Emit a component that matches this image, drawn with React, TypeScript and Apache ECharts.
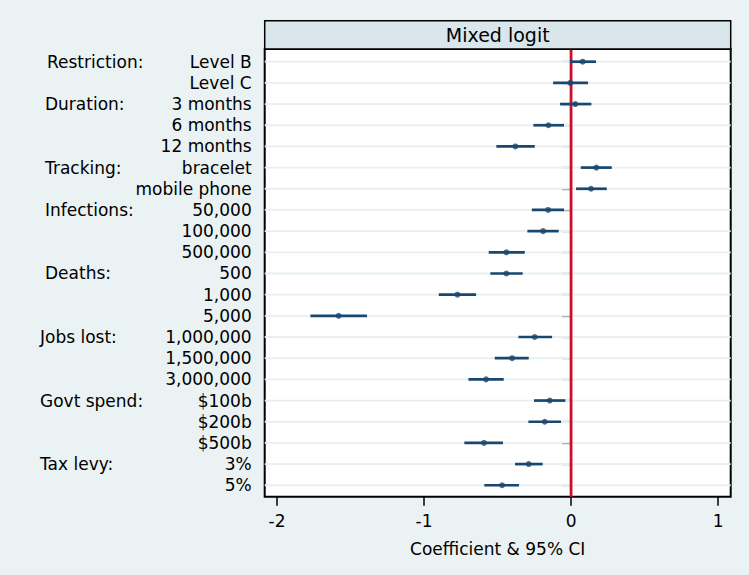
import React, { useEffect, useRef } from "react";
import * as echarts from "echarts";

const categories = [
  "Level B", "Level C", "3 months", "6 months", "12 months", "bracelet", "mobile phone",
  "50,000", "100,000", "500,000", "500", "1,000", "5,000", "1,000,000", "1,500,000",
  "3,000,000", "$100b", "$200b", "$500b", "3%", "5%",
];
const coef = [
  0.079, -0.005, 0.029, -0.154, -0.379, 0.172, 0.136, -0.156, -0.19, -0.44, -0.44,
  -0.773, -1.581, -0.247, -0.401, -0.578, -0.145, -0.179, -0.592, -0.288, -0.469,
];
const lower = [
  -0.007, -0.122, -0.075, -0.256, -0.508, 0.066, 0.034, -0.267, -0.297, -0.56, -0.549,
  -0.9, -1.773, -0.358, -0.519, -0.698, -0.252, -0.29, -0.726, -0.381, -0.59,
];
const upper = [
  0.17, 0.116, 0.138, -0.048, -0.247, 0.277, 0.243, -0.048, -0.084, -0.315, -0.329,
  -0.646, -1.388, -0.129, -0.288, -0.458, -0.039, -0.068, -0.463, -0.193, -0.354,
];
const groupLabels = [
  "Restriction:", "Duration:", "Tracking:", "Infections:", "Deaths:", "Jobs lost:",
  "Govt spend:", "Tax levy:",
];
const groupRows = [1, 3, 6, 8, 11, 14, 17, 20];
const xTicks = [-2, -1, 0, 1];
const refLine = 0;
const title = "Mixed logit";
const xTitle = "Coefficient & 95% CI";

// layout
const W = 749;
const H = 575;
const GRID_LEFT = 264.7;
const GRID_RIGHT = 18.3;
const GRID_TOP = 49;
const GRID_BOTTOM = 78.3;
const HEADER_TOP = 20.7;
const X_MIN = -2.084;
const X_MAX = 1.086;
const Y_MIN = 0.4;
const Y_MAX = 21.54;
const groupX = [47, 45, 45, 45, 45, 40, 40, 40];

const FONT = '"DejaVu Sans", sans-serif';
const BG = "#EAF2F3";
const GRIDLINE = "#E6EFF1";
const HEADER_BG = "#D9E6EB";
const NAVY = "#1A476F";
const RED = "#C8102E";

export default function App() {
  const ref = useRef<HTMLDivElement>(null);
  useEffect(() => {
    if (!ref.current) return;
    const chart = echarts.init(ref.current, undefined, { renderer: "svg" });
    const rows = categories.map((_, i) => i + 1);
    chart.setOption({
      animation: false,
      backgroundColor: BG,
      tooltip: { show: false },
      grid: {
        left: GRID_LEFT,
        right: GRID_RIGHT,
        top: GRID_TOP,
        bottom: GRID_BOTTOM,
        show: true,
        backgroundColor: "#fff",
        borderColor: "#000",
        borderWidth: 2,
      },
      xAxis: {
        type: "value",
        min: X_MIN,
        max: X_MAX,
        name: xTitle,
        nameLocation: "middle",
        nameGap: 44,
        nameTextStyle: { fontFamily: FONT, fontSize: 17, color: "#000" },
        axisLine: { show: false },
        axisTick: {
          show: true,
          customValues: xTicks,
          length: 9,
          lineStyle: { color: "#000", width: 1.5 },
        },
        axisLabel: {
          customValues: xTicks,
          margin: 16,
          fontFamily: FONT,
          fontSize: 17,
          color: "#000",
          formatter: (v: number) => String(v),
        },
        splitLine: { show: false },
      },
      yAxis: {
        type: "value",
        min: Y_MIN,
        max: Y_MAX,
        inverse: true,
        axisLine: { show: false },
        axisTick: {
          show: true,
          customValues: rows,
          length: 9,
          lineStyle: { color: "#000", width: 1.2 },
        },
        axisLabel: {
          customValues: rows,
          margin: 13,
          fontFamily: FONT,
          fontSize: 17,
          color: "#000",
          formatter: (v: number) => categories[Math.round(v) - 1] ?? "",
        },
        splitLine: { show: false },
      },
      series: [
        {
          type: "custom",
          z: 1,
          silent: true,
          encode: { x: 0, y: 1 },
          data: rows.map((r) => [0, r]),
          renderItem: (_p: any, api: any) => {
            const r = api.value(1);
            const a = api.coord([X_MIN, r]);
            const b = api.coord([X_MAX, r]);
            return {
              type: "line",
              shape: { x1: a[0], y1: a[1], x2: b[0], y2: b[1] },
              style: { stroke: GRIDLINE, lineWidth: 1.8 },
            };
          },
        },
        {
          type: "custom",
          z: 2,
          silent: true,
          encode: { x: 0, y: 1 },
          data: [[refLine, Y_MIN]],
          renderItem: (_p: any, api: any) => {
            const x = api.value(0);
            const a = api.coord([x, Y_MIN]);
            const b = api.coord([x, Y_MAX]);
            return {
              type: "line",
              shape: { x1: a[0], y1: a[1], x2: b[0], y2: b[1] },
              style: { stroke: RED, lineWidth: 2.8 },
            };
          },
        },
        {
          type: "custom",
          z: 3,
          silent: true,
          encode: { x: [0, 1], y: 2 },
          data: rows.map((r, i) => [lower[i], upper[i], r]),
          renderItem: (_p: any, api: any) => {
            const r = api.value(2);
            const a = api.coord([api.value(0), r]);
            const b = api.coord([api.value(1), r]);
            return {
              type: "line",
              shape: { x1: a[0], y1: a[1], x2: b[0], y2: b[1] },
              style: { stroke: NAVY, lineWidth: 2.7 },
            };
          },
        },
        {
          type: "scatter",
          z: 4,
          silent: true,
          symbol: "circle",
          symbolSize: 6,
          itemStyle: { color: NAVY },
          data: rows.map((r, i) => [coef[i], r]),
        },
      ],
    });

    const gridRightX = W - GRID_RIGHT;
    const graphics: any[] = [
      {
        type: "rect",
        z: 10,
        shape: {
          x: GRID_LEFT,
          y: HEADER_TOP,
          width: gridRightX - GRID_LEFT,
          height: GRID_TOP - HEADER_TOP,
        },
        style: { fill: HEADER_BG, stroke: "#000", lineWidth: 1.5 },
      },
      {
        type: "text",
        z: 11,
        x: (GRID_LEFT + gridRightX) / 2,
        y: (HEADER_TOP + GRID_TOP) / 2 + 0.5,
        style: {
          text: title,
          fontFamily: FONT,
          fontSize: 19,
          fill: "#000",
          align: "center",
          verticalAlign: "middle",
        },
      },
    ];
    groupLabels.forEach((g, i) => {
      const p = chart.convertToPixel({ gridIndex: 0 } as any, [X_MIN, groupRows[i]]) as number[];
      graphics.push({
        type: "text",
        z: 11,
        x: groupX[i],
        y: p[1],
        style: {
          text: g,
          fontFamily: FONT,
          fontSize: 17,
          fill: "#000",
          align: "left",
          verticalAlign: "middle",
        },
      });
    });
    chart.setOption({ graphic: graphics });

    return () => chart.dispose();
  }, []);
  return (
    <div
      ref={ref}
      style={{ position: "absolute", left: 0, top: 0, width: W, height: H }}
    />
  );
}
